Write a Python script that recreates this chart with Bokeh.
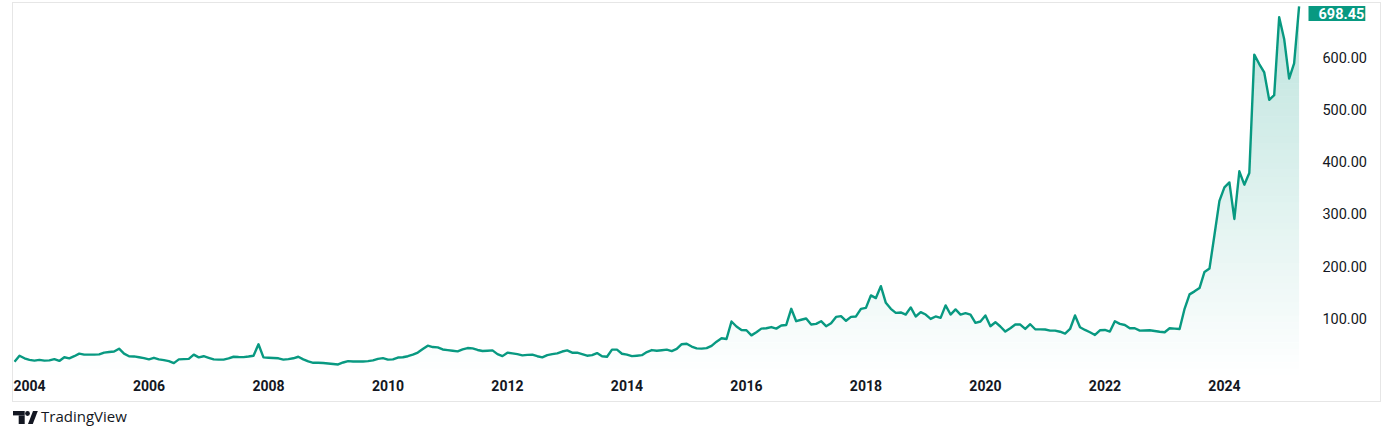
import numpy as np
import pandas as pd
from bokeh.plotting import figure
from bokeh.models import Range1d, FixedTicker, Label, LinearAxis, Div
from bokeh.layouts import column
from bokeh.embed import file_html
from bokeh.resources import INLINE

# ---------------- data (monthly closes, Oct 2003 .. Apr 2025) ----------------
first_month = "2003-10-01"
prices = [
    16.4, 28, 23,                                                    # 2003 Oct-Dec
    20, 18.5, 20, 18.5, 19, 21.5, 18, 25, 23, 27, 32, 30,            # 2004
    30, 30, 30.5, 34, 35, 36, 41.5, 32, 27, 26.6, 25, 23.4,          # 2005
    21, 24, 21, 19.5, 17.6, 13.7, 21, 21.4, 22, 30, 24.7, 27,        # 2006
    24, 21, 20.5, 20.5, 22.8, 26, 25.5, 25.3, 26.5, 28, 50, 24.7,    # 2007
    24, 23.5, 23, 20.5, 21.5, 23, 26, 21, 17, 14.4, 14.4, 14,        # 2008
    13, 12, 11.2, 15, 17.6, 17, 17, 17, 17.5, 19, 22, 23.4,          # 2009
    20.5, 21, 24.5, 25, 27, 30, 34, 40.7, 47.3, 44.6, 44, 40,        # 2010
    38.8, 37.5, 36.3, 40, 42.7, 42, 39, 37, 37.5, 38.2, 31, 27.2,    # 2011
    33.8, 32.4, 31, 28.6, 29.5, 29.9, 27, 24.7, 29, 31, 32.5, 36,    # 2012
    38.2, 33.8, 33.8, 31, 28, 29, 33, 27, 26, 39.6, 39.6, 31.8,      # 2013
    30, 27.2, 28, 29, 35, 38.8, 37.6, 38.5, 39.6, 36.9, 41, 50,      # 2014
    51, 45.5, 42, 41.5, 42.5, 47, 55, 61.4, 60, 93.6, 84, 77.4,      # 2015
    76.8, 67, 73, 80, 80.7, 83, 80, 86, 87, 118, 94.2, 97,           # 2016
    99.4, 87.8, 89, 94.2, 84.6, 90.3, 102.5, 103.9, 95, 102.5, 103.3, 118,  # 2017
    119.9, 143.8, 138.6, 161.5, 129.5, 118, 110.2, 111, 107, 120.7, 103.3, 111.6,  # 2018
    107, 98.6, 103.3, 100.6, 124.5, 107, 116.8, 107, 109.7, 107, 91, 93.6,  # 2019
    105.2, 84.6, 92.3, 84, 74.3, 80.7, 87.8, 87.8, 79.3, 88.4, 78.8, 78.5,  # 2020
    78.2, 76.2, 76.2, 74, 70.5, 79.3, 105.2, 82.6, 77.4, 73, 67.8, 76.8,   # 2021
    77.4, 74.3, 94.2, 89, 87, 80.7, 80.7, 76.2, 76.5, 76.8, 75.5, 74,      # 2022
    73, 80.7, 80, 79.3, 118, 145.7, 151.5, 157.9, 188.8, 195.2, 259.7, 325.3,  # 2023
    351, 360.6, 290.5, 381.9, 356.2, 378.6, 605.8, 587.8, 571.6, 519, 528, 677.8,  # 2024
    636, 560, 589, 698.45,                                           # 2025 Jan-Apr
]

x_ticks = [2004, 2006, 2008, 2010, 2012, 2014, 2016, 2018, 2020, 2022, 2024]
x_tick_labels = ["2004", "2006", "2008", "2010", "2012", "2014", "2016", "2018", "2020", "2022", "2024"]
y_ticks = [100, 200, 300, 400, 500, 600]
y_tick_labels = ["100.00", "200.00", "300.00", "400.00", "500.00", "600.00"]
brand = "TradingView"

# ---------------- derived ----------------
dates = pd.date_range(first_month, periods=len(prices), freq="MS")
xs = np.asarray(dates.year + (dates.month - 1) / 12.0, dtype=float)
vals = np.asarray(prices, dtype=float)

GREEN = "#089981"
TEXT = "#131722"

# geometry of the pane (pixels)
CANVAS_W, CANVAS_H = 1367, 398
PANE_W = 1287                      # width of the price pane left of the price scale
X_START, X_PANE_END = 2003.733, 2025.305
px_per_year = PANE_W / (X_PANE_END - X_START)
X_END = X_START + CANVAS_W / px_per_year
Y0, Y1 = -10, 704

p = figure(width=CANVAS_W + 2, height=CANVAS_H + 2, output_backend="svg", toolbar_location=None,
           x_range=Range1d(X_START, X_END), y_range=Range1d(Y0, Y1),
           y_axis_location=None, x_axis_location="below",
           min_border_left=0, min_border_top=0, min_border_right=0, min_border_bottom=28,
           background_fill_color="white", border_fill_color="white",
           outline_line_color=None, margin=(2, 0, 0, 12),
           styles={"border": "1px solid #e6e6e6"})
p.xgrid.visible = False
p.ygrid.visible = False

# vertical gradient under the line: adjacent horizontal bands, alpha growing with height
n_bands = 56
edges = np.linspace(Y0, Y1, n_bands + 1)
A_TOP = 0.27
for lo, hi in zip(edges[:-1], edges[1:]):
    a = A_TOP * (0.5 * (lo + hi) - Y0) / (Y1 - Y0)
    p.varea(x=xs, y1=np.minimum(vals, lo), y2=np.minimum(vals, hi),
            fill_color=GREEN, fill_alpha=a)

p.line(xs, vals, line_color=GREEN, line_width=2.4, line_join="round")

xa = p.xaxis[0]
xa.ticker = FixedTicker(ticks=x_ticks)
xa.major_label_overrides = {t: l for t, l in zip(x_ticks, x_tick_labels)}

ya = LinearAxis(fixed_location=X_PANE_END)
ya.ticker = FixedTicker(ticks=y_ticks)
ya.major_label_overrides = {t: l for t, l in zip(y_ticks, y_tick_labels)}
p.add_layout(ya, "right")

for ax in (xa, ya):
    ax.axis_line_color = None
    ax.major_tick_line_color = None
    ax.minor_tick_line_color = None
    ax.major_tick_out = 0
    ax.major_tick_in = 0
    ax.major_label_text_color = TEXT
    ax.major_label_text_font = "Roboto"
xa.major_label_standoff = 4
xa.major_label_text_font_size = "14px"
xa.major_label_text_font_style = "bold"
ya.major_label_standoff = 20
ya.major_label_text_font_size = "14.5px"

tag = Label(x=PANE_W + 8, y=vals[-1], x_units="screen", y_units="data", y_offset=-7,
            text=f"{prices[-1]:.2f}", text_color="white", text_font="Roboto",
            text_font_size="14.5px", text_font_style="bold", text_align="left",
            text_baseline="middle",
            background_fill_color=GREEN, background_fill_alpha=1.0,
            padding=dict(left=10, right=1, top=2, bottom=2))
p.add_layout(tag)

# ---------------- footer with TradingView mark ----------------
logo_svg = (
    '<svg width="25" height="13" viewBox="0 0 25 13" style="margin-right:3px;flex:none">'
    f'<rect x="0" y="0" width="11.7" height="4.4" fill="{TEXT}"/>'
    f'<rect x="5.7" y="4.4" width="6" height="8.6" fill="{TEXT}"/>'
    f'<circle cx="14.5" cy="2.5" r="2.4" fill="{TEXT}"/>'
    f'<polygon points="15,13 19.8,13 24.8,0 20,0" fill="{TEXT}"/>'
    '</svg>'
)
footer = Div(
    text=(f'<div style="display:flex;align-items:center;height:14px;padding-top:15px;'
          f'font-family:\'Open Sans\';font-size:15px;color:{TEXT};white-space:nowrap;">'
          f'{logo_svg}<span>{brand}</span></div>'),
    width=200, height=40, margin=(0, 0, 0, 13))

layout = column(p, footer)
open("out.html", "w").write(file_html(layout, INLINE))
